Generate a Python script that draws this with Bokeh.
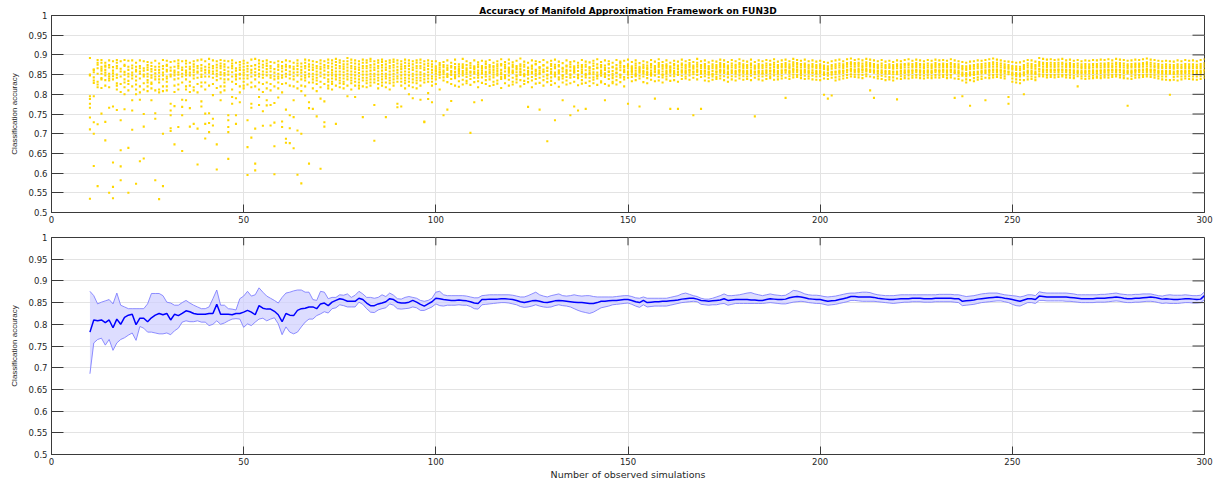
from bokeh.plotting import figure
from bokeh.layouts import column
from bokeh.models import Range1d, FixedTicker, ColumnDataSource
from bokeh.embed import file_html
from bokeh.resources import INLINE

# ---------------- data (accuracy in thousandths) ----------------
# scatter: one list per number of observed simulations, starting at the block's first x
acc_010_049 = [
    [892, 850, 795, 788, 776, 766, 741, 711, 535, 848],
    [863, 856, 843, 829, 795, 729, 700, 618, 862, 835],
    [887, 875, 866, 852, 818, 825, 724, 567, 880, 832],
    [887, 865, 841, 816, 751, 870, 852, 838, 880, 860],
    [880, 873, 862, 848, 836, 730, 683, 822, 855, 870],
    [886, 868, 852, 835, 818, 766, 550, 846, 874, 840],
    [884, 869, 853, 838, 769, 627, 565, 536, 860, 846],
    [887, 872, 850, 828, 812, 760, 880, 842, 866, 822],
    [884, 865, 845, 826, 806, 734, 658, 617, 582, 858],
    [887, 875, 857, 838, 818, 762, 872, 850, 800, 830],
    [885, 870, 852, 834, 810, 664, 550, 845, 862, 826],
    [886, 873, 855, 785, 759, 710, 840, 866, 820, 848],
    [880, 862, 845, 825, 800, 573, 858, 870, 835, 812],
    [886, 872, 858, 840, 786, 630, 852, 866, 820, 805],
    [884, 866, 850, 828, 750, 718, 637, 845, 860, 812],
    [882, 868, 852, 836, 808, 862, 845, 874, 820, 830],
    [880, 864, 848, 830, 785, 842, 858, 872, 815, 826],
    [885, 870, 853, 838, 752, 738, 582, 845, 862, 810],
    [878, 862, 846, 830, 812, 534, 855, 870, 805, 838],
    [887, 872, 855, 838, 700, 567, 848, 865, 820, 808],
    [885, 872, 858, 840, 820, 862, 845, 875, 810, 832],
    [882, 868, 850, 776, 759, 747, 714, 707, 845, 860],
    [884, 870, 855, 838, 770, 673, 860, 848, 822, 806],
    [886, 872, 856, 840, 717, 825, 850, 866, 812, 878],
    [884, 868, 852, 786, 768, 747, 656, 845, 862, 830],
    [885, 870, 855, 838, 785, 820, 860, 848, 878, 812],
    [880, 864, 848, 832, 765, 718, 855, 870, 822, 806],
    [884, 870, 856, 840, 725, 818, 862, 848, 876, 810],
    [886, 872, 858, 842, 713, 622, 855, 866, 826, 805],
    [888, 874, 860, 844, 782, 769, 850, 866, 820, 830],
    [884, 870, 855, 751, 688, 725, 845, 862, 830, 812],
    [890, 876, 860, 845, 752, 727, 704, 855, 868, 822],
    [886, 872, 858, 842, 738, 721, 798, 852, 866, 826],
    [884, 868, 852, 836, 673, 609, 860, 846, 875, 816],
    [887, 872, 856, 785, 840, 866, 850, 820, 878, 805],
    [885, 870, 854, 838, 820, 862, 848, 876, 810, 830],
    [884, 868, 850, 747, 734, 717, 704, 636, 858, 838],
    [886, 872, 856, 793, 776, 845, 866, 832, 878, 812],
    [880, 866, 850, 747, 725, 790, 845, 860, 826, 838],
    [882, 868, 852, 780, 840, 862, 820, 875, 805, 850],
]
acc_050_099 = [
    [885, 870, 855, 840, 822, 862, 848, 878, 815, 832],
    [880, 865, 848, 734, 666, 595, 858, 840, 872, 825],
    [888, 872, 855, 776, 766, 690, 862, 845, 830, 818],
    [890, 874, 856, 713, 624, 607, 865, 848, 838, 820],
    [886, 870, 852, 793, 773, 862, 845, 830, 878, 812],
    [884, 868, 850, 757, 720, 858, 842, 875, 826, 806],
    [886, 872, 856, 785, 772, 864, 848, 878, 830, 815],
    [882, 866, 848, 773, 721, 858, 842, 872, 826, 810],
    [880, 864, 846, 778, 728, 668, 597, 855, 838, 820],
    [884, 870, 852, 792, 862, 845, 875, 830, 815, 840],
    [882, 866, 848, 731, 717, 858, 842, 872, 826, 805],
    [886, 870, 852, 761, 687, 677, 862, 845, 875, 828],
    [884, 868, 850, 747, 714, 676, 858, 840, 872, 822],
    [880, 864, 846, 742, 663, 785, 855, 838, 870, 820],
    [886, 872, 856, 708, 596, 864, 848, 878, 832, 815],
    [878, 862, 846, 700, 574, 855, 838, 870, 822, 808],
    [888, 872, 856, 797, 866, 848, 880, 835, 820, 842],
    [886, 870, 852, 780, 765, 624, 862, 845, 876, 830],
    [884, 868, 852, 763, 862, 845, 875, 830, 815, 838],
    [882, 866, 850, 744, 858, 842, 872, 826, 808, 835],
    [886, 870, 855, 789, 611, 864, 846, 878, 832, 818],
    [884, 868, 850, 782, 729, 718, 860, 842, 874, 826],
    [888, 872, 856, 838, 822, 866, 848, 880, 832, 815],
    [886, 870, 855, 840, 826, 862, 848, 878, 832, 812],
    [890, 874, 858, 725, 866, 850, 882, 838, 822, 845],
    [886, 872, 858, 842, 828, 866, 850, 880, 835, 818],
    [884, 870, 856, 840, 826, 864, 848, 876, 832, 815],
    [892, 876, 860, 845, 795, 868, 852, 884, 838, 822],
    [888, 872, 858, 842, 828, 866, 850, 880, 835, 812],
    [886, 870, 856, 793, 840, 864, 848, 878, 832, 822],
    [884, 868, 854, 838, 822, 862, 846, 876, 830, 815],
    [888, 872, 858, 742, 842, 866, 850, 880, 835, 820],
    [886, 872, 858, 842, 828, 866, 850, 880, 835, 818],
    [890, 874, 860, 845, 830, 868, 852, 884, 838, 822],
    [884, 868, 852, 773, 682, 862, 846, 876, 830, 838],
    [886, 872, 858, 842, 826, 866, 850, 880, 835, 815],
    [888, 874, 860, 845, 830, 868, 852, 882, 838, 822],
    [884, 868, 852, 742, 840, 862, 846, 876, 830, 818],
    [886, 872, 858, 842, 828, 866, 850, 880, 835, 812],
    [888, 874, 860, 845, 830, 868, 852, 882, 838, 822],
    [886, 870, 855, 776, 767, 862, 846, 878, 832, 840],
    [884, 870, 856, 769, 840, 864, 848, 876, 832, 822],
    [888, 872, 858, 842, 828, 866, 850, 880, 835, 815],
    [886, 872, 856, 800, 840, 864, 848, 878, 832, 822],
    [884, 868, 852, 790, 838, 862, 846, 876, 830, 818],
    [886, 872, 858, 842, 828, 866, 850, 880, 835, 815],
    [888, 872, 856, 786, 842, 866, 850, 880, 835, 822],
    [884, 868, 852, 731, 729, 862, 846, 876, 830, 838],
    [886, 872, 856, 803, 788, 864, 848, 878, 832, 840],
    [884, 870, 855, 780, 840, 862, 846, 876, 832, 822],
]
acc_100_149 = [
    [884, 871, 866, 858, 852, 845, 838, 826, 861],
    [879, 874, 863, 855, 849, 842, 812, 868, 857],
    [882, 869, 860, 851, 843, 747, 835, 874, 856],
    [886, 873, 862, 852, 844, 761, 831, 867, 848],
    [880, 868, 859, 849, 839, 783, 826, 872, 855],
    [888, 877, 865, 857, 850, 841, 822, 869, 846],
    [876, 870, 861, 853, 846, 833, 819, 864, 858],
    [890, 876, 867, 859, 848, 837, 825, 871, 854],
    [884, 874, 862, 856, 844, 834, 828, 866, 851],
    [879, 867, 858, 847, 702, 839, 824, 873, 855],
    [886, 871, 864, 852, 780, 842, 831, 868, 857],
    [881, 869, 860, 848, 842, 833, 818, 875, 854],
    [885, 872, 861, 852, 785, 843, 829, 867, 856],
    [883, 877, 866, 857, 845, 836, 826, 870, 851],
    [887, 874, 863, 854, 845, 838, 821, 869, 858],
    [880, 868, 862, 850, 843, 832, 824, 872, 856],
    [884, 871, 865, 853, 848, 835, 827, 876, 859],
    [889, 873, 862, 855, 844, 839, 816, 877, 851],
    [882, 875, 866, 858, 849, 841, 828, 870, 846],
    [888, 878, 864, 855, 847, 837, 822, 868, 859],
    [881, 869, 860, 854, 842, 832, 825, 874, 857],
    [885, 872, 863, 856, 845, 838, 830, 867, 848],
    [891, 876, 864, 855, 849, 836, 820, 871, 858],
    [883, 870, 861, 852, 846, 834, 826, 875, 849],
    [880, 868, 859, 850, 768, 840, 831, 866, 855],
    [886, 873, 865, 853, 844, 835, 818, 870, 857],
    [884, 877, 862, 858, 847, 839, 827, 876, 852],
    [882, 869, 860, 851, 761, 842, 829, 867, 854],
    [887, 874, 863, 856, 845, 836, 822, 873, 858],
    [881, 868, 859, 850, 681, 840, 831, 866, 848],
    [885, 872, 864, 857, 843, 834, 824, 877, 852],
    [888, 875, 866, 855, 734, 845, 828, 869, 850],
    [883, 871, 861, 853, 843, 838, 819, 874, 857],
    [879, 867, 858, 849, 785, 840, 830, 865, 846],
    [886, 873, 862, 853, 844, 835, 825, 871, 858],
    [882, 869, 860, 851, 747, 842, 828, 876, 848],
    [884, 871, 862, 857, 769, 844, 832, 867, 855],
    [880, 868, 859, 850, 759, 841, 823, 873, 847],
    [887, 874, 863, 854, 845, 836, 827, 869, 858],
    [883, 870, 861, 852, 763, 843, 829, 875, 849],
    [881, 869, 860, 851, 842, 833, 821, 866, 854],
    [885, 872, 864, 856, 843, 837, 828, 878, 851],
    [889, 876, 866, 855, 846, 840, 824, 868, 848],
    [882, 869, 860, 853, 847, 833, 830, 874, 856],
    [886, 873, 862, 853, 785, 844, 826, 867, 850],
    [884, 877, 866, 857, 848, 839, 822, 876, 858],
    [880, 868, 859, 852, 841, 832, 828, 870, 847],
    [887, 874, 863, 854, 845, 836, 825, 866, 855],
    [883, 879, 868, 861, 850, 843, 831, 873, 849],
    [885, 872, 862, 856, 844, 838, 820, 869, 857],
]
acc_150_199 = [
    [888, 876, 866, 858, 850, 842, 776, 872, 855],
    [882, 871, 864, 857, 851, 844, 833, 868, 859],
    [886, 878, 867, 860, 853, 846, 836, 873, 849],
    [879, 870, 862, 855, 847, 840, 769, 866, 858],
    [884, 875, 866, 859, 852, 845, 831, 870, 856],
    [881, 873, 864, 857, 849, 841, 828, 868, 854],
    [887, 877, 868, 860, 854, 847, 837, 873, 851],
    [883, 872, 863, 856, 848, 789, 833, 867, 858],
    [889, 879, 869, 861, 853, 844, 835, 874, 857],
    [882, 874, 865, 858, 851, 843, 830, 870, 849],
    [886, 876, 867, 860, 852, 845, 838, 872, 856],
    [880, 871, 863, 855, 847, 763, 834, 868, 859],
    [885, 877, 866, 859, 852, 846, 836, 873, 854],
    [883, 873, 864, 857, 849, 763, 832, 870, 851],
    [888, 878, 868, 861, 855, 847, 839, 874, 858],
    [884, 875, 866, 860, 853, 845, 840, 871, 857],
    [887, 879, 869, 862, 855, 848, 837, 874, 860],
    [882, 873, 865, 858, 851, 747, 842, 869, 856],
    [890, 880, 870, 863, 856, 849, 838, 875, 859],
    [884, 874, 866, 859, 852, 763, 844, 871, 855],
    [886, 877, 867, 860, 853, 846, 835, 872, 858],
    [881, 872, 864, 857, 850, 842, 833, 868, 855],
    [885, 876, 866, 859, 852, 845, 837, 871, 850],
    [883, 874, 865, 858, 851, 844, 839, 869, 857],
    [888, 879, 869, 862, 855, 847, 840, 874, 859],
    [886, 877, 868, 861, 854, 846, 836, 872, 857],
    [882, 873, 865, 858, 851, 843, 832, 869, 854],
    [887, 878, 868, 861, 854, 846, 838, 873, 858],
    [884, 875, 866, 859, 852, 845, 835, 871, 856],
    [889, 879, 869, 862, 855, 848, 840, 875, 859],
    [885, 876, 867, 860, 853, 846, 837, 872, 857],
    [883, 874, 866, 859, 852, 845, 839, 870, 855],
    [888, 878, 868, 861, 854, 847, 836, 874, 858],
    [882, 873, 865, 858, 851, 744, 842, 869, 856],
    [886, 877, 867, 860, 853, 846, 838, 872, 857],
    [884, 875, 866, 859, 852, 845, 835, 871, 854],
    [887, 878, 868, 861, 854, 847, 839, 873, 858],
    [885, 876, 867, 860, 853, 846, 841, 874, 859],
    [889, 880, 869, 862, 855, 848, 837, 875, 857],
    [883, 874, 866, 859, 852, 845, 838, 870, 856],
    [886, 877, 868, 861, 854, 847, 840, 872, 858],
    [888, 879, 869, 862, 855, 791, 842, 874, 860],
    [884, 876, 867, 860, 853, 846, 839, 871, 857],
    [890, 881, 871, 864, 857, 850, 843, 876, 862],
    [887, 879, 869, 863, 856, 849, 844, 875, 860],
    [885, 877, 868, 861, 854, 848, 841, 873, 859],
    [888, 878, 869, 862, 855, 847, 839, 874, 858],
    [884, 875, 866, 860, 853, 846, 840, 871, 857],
    [886, 877, 868, 861, 854, 847, 838, 872, 856],
    [883, 874, 866, 859, 852, 845, 837, 870, 855],
]
acc_200_249 = [
    [885, 876, 867, 860, 853, 846, 836, 872, 857],
    [882, 873, 864, 856, 849, 840, 799, 869, 852],
    [880, 871, 862, 855, 847, 839, 789, 866, 853],
    [884, 874, 865, 857, 850, 842, 797, 870, 855],
    [886, 876, 866, 858, 851, 843, 835, 871, 856],
    [888, 878, 868, 860, 853, 845, 838, 873, 857],
    [884, 876, 867, 860, 854, 847, 840, 872, 859],
    [889, 879, 870, 862, 856, 849, 842, 875, 861],
    [891, 881, 871, 864, 858, 851, 845, 877, 862],
    [887, 879, 870, 863, 857, 850, 844, 875, 861],
    [889, 880, 871, 864, 857, 850, 843, 876, 860],
    [886, 878, 869, 862, 856, 849, 841, 873, 863],
    [890, 881, 871, 864, 858, 851, 846, 876, 861],
    [888, 879, 870, 863, 857, 810, 845, 874, 860],
    [886, 877, 868, 861, 855, 791, 843, 872, 859],
    [884, 875, 867, 860, 853, 846, 840, 871, 858],
    [887, 878, 868, 861, 854, 847, 839, 873, 857],
    [883, 874, 866, 859, 852, 845, 836, 870, 856],
    [885, 876, 867, 859, 852, 844, 838, 871, 855],
    [882, 874, 865, 858, 851, 843, 835, 869, 856],
    [886, 876, 866, 858, 851, 787, 840, 872, 855],
    [884, 876, 867, 860, 853, 846, 839, 871, 858],
    [887, 877, 868, 861, 854, 847, 841, 873, 857],
    [889, 878, 868, 861, 855, 848, 840, 874, 858],
    [885, 877, 868, 861, 854, 847, 842, 872, 859],
    [888, 879, 869, 862, 856, 849, 843, 874, 860],
    [886, 877, 868, 861, 855, 848, 841, 873, 859],
    [884, 876, 867, 860, 854, 847, 840, 871, 857],
    [887, 878, 868, 861, 855, 848, 842, 873, 858],
    [885, 876, 867, 860, 854, 847, 841, 872, 857],
    [888, 879, 869, 862, 856, 849, 843, 874, 860],
    [886, 877, 868, 861, 855, 848, 842, 873, 859],
    [887, 878, 869, 862, 856, 849, 844, 874, 860],
    [885, 877, 868, 861, 855, 848, 841, 872, 858],
    [889, 879, 869, 862, 856, 849, 843, 875, 860],
    [886, 877, 868, 861, 854, 791, 840, 872, 857],
    [884, 876, 867, 860, 853, 846, 839, 871, 856],
    [882, 872, 863, 855, 847, 795, 835, 867, 851],
    [880, 871, 862, 854, 846, 838, 830, 866, 850],
    [883, 873, 864, 856, 848, 771, 836, 869, 852],
    [884, 874, 865, 857, 849, 841, 833, 870, 853],
    [886, 876, 866, 858, 851, 843, 837, 871, 855],
    [885, 877, 867, 860, 853, 845, 839, 872, 857],
    [887, 878, 868, 861, 854, 785, 842, 873, 858],
    [889, 879, 869, 862, 855, 848, 841, 874, 859],
    [891, 881, 870, 863, 856, 849, 843, 876, 861],
    [888, 880, 870, 863, 857, 850, 844, 875, 862],
    [886, 878, 868, 861, 855, 848, 842, 873, 860],
    [884, 876, 867, 860, 853, 846, 840, 871, 858],
    [883, 874, 865, 858, 851, 793, 776, 869, 856],
]
acc_250_300 = [
    [882, 872, 863, 855, 848, 840, 832, 867, 852],
    [880, 871, 862, 854, 846, 838, 830, 866, 850],
    [881, 870, 861, 853, 845, 837, 828, 865, 849],
    [884, 874, 864, 856, 848, 800, 836, 869, 853],
    [887, 878, 868, 860, 853, 845, 838, 873, 857],
    [886, 877, 867, 860, 852, 845, 839, 872, 856],
    [883, 874, 865, 858, 851, 843, 836, 870, 854],
    [892, 882, 872, 865, 858, 851, 846, 877, 863],
    [890, 880, 870, 863, 857, 850, 845, 876, 862],
    [888, 879, 869, 862, 856, 849, 843, 874, 861],
    [889, 880, 870, 863, 856, 849, 844, 875, 860],
    [887, 879, 869, 862, 856, 849, 843, 874, 861],
    [888, 880, 870, 863, 857, 850, 844, 875, 862],
    [890, 880, 870, 863, 856, 849, 845, 876, 861],
    [886, 878, 869, 862, 856, 849, 843, 874, 860],
    [888, 879, 869, 862, 855, 848, 842, 874, 860],
    [885, 877, 868, 861, 854, 847, 841, 872, 858],
    [887, 878, 868, 860, 853, 846, 820, 873, 857],
    [884, 876, 867, 860, 853, 846, 840, 871, 856],
    [886, 877, 867, 860, 853, 846, 839, 872, 857],
    [885, 876, 867, 860, 853, 846, 840, 871, 858],
    [887, 877, 868, 861, 854, 847, 841, 873, 857],
    [886, 877, 868, 860, 853, 846, 842, 872, 858],
    [888, 878, 868, 861, 854, 847, 841, 873, 859],
    [887, 878, 869, 862, 855, 848, 843, 874, 858],
    [889, 879, 869, 862, 855, 848, 842, 874, 860],
    [886, 878, 869, 862, 856, 849, 844, 873, 861],
    [890, 880, 870, 863, 857, 850, 845, 876, 862],
    [888, 879, 869, 862, 856, 849, 843, 874, 861],
    [887, 878, 868, 861, 854, 847, 841, 873, 858],
    [885, 876, 867, 860, 853, 771, 840, 872, 857],
    [886, 877, 868, 860, 853, 846, 839, 872, 857],
    [888, 878, 869, 862, 855, 848, 842, 874, 859],
    [887, 878, 869, 862, 856, 849, 843, 874, 860],
    [889, 879, 870, 863, 856, 849, 844, 875, 861],
    [891, 881, 871, 864, 857, 850, 845, 877, 862],
    [888, 880, 870, 863, 857, 850, 844, 875, 861],
    [887, 878, 869, 862, 855, 848, 842, 873, 860],
    [885, 877, 867, 860, 853, 846, 840, 872, 857],
    [884, 875, 866, 859, 852, 845, 838, 870, 856],
    [885, 876, 866, 859, 852, 845, 837, 871, 856],
    [884, 875, 866, 859, 852, 799, 836, 870, 855],
    [883, 874, 865, 858, 851, 844, 837, 869, 854],
    [886, 876, 866, 859, 852, 845, 835, 871, 856],
    [884, 875, 866, 859, 852, 845, 838, 870, 856],
    [887, 877, 867, 860, 853, 846, 840, 872, 857],
    [885, 876, 867, 860, 853, 846, 839, 871, 858],
    [886, 876, 866, 859, 852, 845, 838, 871, 856],
    [884, 875, 866, 859, 852, 845, 837, 870, 855],
    [887, 877, 867, 860, 853, 846, 839, 872, 857],
    [889, 879, 869, 862, 855, 848, 842, 874, 860],
]

# bottom panel: mean accuracy and band edges for x = 10 .. 300
line_x_start = 10
mean_acc = [
    782, 810, 808, 810, 804, 810, 792, 812, 800, 816,
    821, 823, 799, 814, 814, 806, 815, 821, 825, 822,
    825, 810, 823, 820, 825, 831, 829, 825, 823, 823,
    823, 825, 825, 846, 823, 823, 823, 822, 825, 825,
    828, 832, 828, 822, 843, 837, 835, 835, 830, 822,
    806, 825, 821, 820, 832, 836, 837, 840, 840, 836,
    847, 849, 843, 851, 855, 859, 857, 853, 853, 853,
    860, 857, 849, 843, 843, 847, 849, 852, 859, 857,
    851, 849, 849, 851, 855, 851, 846, 842, 847, 852,
    860, 859, 857,
    856, 855, 855, 856, 855, 854, 852, 849, 848, 857,
    857, 858, 858, 858, 859, 859, 858, 857, 855, 852,
    850, 852, 854, 855, 853, 851, 850, 852, 854, 855,
    854, 853, 852, 851, 850, 850, 849, 848, 848, 850,
    853, 853, 854, 855, 855, 856, 857, 857, 855, 852,
    850, 855, 850, 851, 852, 852, 853, 853, 854, 855,
    856, 858, 859, 860, 860, 858, 855, 854, 853, 854,
    855, 856, 859, 855, 856, 857, 857, 857, 857, 856,
    856, 855, 855, 857, 859, 858, 857, 857, 858, 861,
    863, 864, 863, 861, 859, 858, 857, 857, 855, 853,
    854, 855, 857, 859, 861, 864, 864, 863, 863, 863,
    863, 862, 860, 859, 858, 857, 857, 858, 859, 859,
    859, 860, 860, 860, 859, 859, 859, 860, 860, 860,
    860, 860, 859, 859, 853, 854, 855, 856, 858, 859,
    860, 861, 862, 863, 862, 860, 859, 857, 855, 853,
    856, 859, 859, 857, 865, 864, 863, 863, 863, 863,
    863, 863, 862, 861, 860, 859, 859, 859, 859, 860,
    860, 860, 861, 862, 863, 862, 860, 859, 859, 860,
    860, 861, 862, 863, 862, 860, 858, 859, 858, 857,
    857, 858, 859, 859, 858, 857, 858, 866,
]
upper_acc = [
    876, 866, 847, 851, 854, 857, 847, 872, 844, 840,
    836, 836, 836, 836, 836, 847, 871, 871, 871, 866,
    851, 849, 844, 844, 850, 855, 849, 844, 840, 836,
    836, 840, 859, 879, 844, 844, 836, 835, 833, 859,
    865, 876, 865, 868, 884, 874, 865, 860, 855, 849,
    862, 872, 874, 877, 879, 879, 874, 874, 857, 855,
    876, 874, 859, 862, 862, 868, 867, 870, 862, 867,
    876, 870, 862, 862, 860, 862, 868, 864, 872, 867,
    859, 858, 862, 864, 862, 860, 855, 853, 855, 860,
    874, 876, 868,
    866, 866, 866, 866, 866, 865, 863, 861, 861, 866,
    867, 868, 868, 868, 868, 868, 868, 867, 865, 863,
    863, 866, 870, 874, 868, 865, 863, 866, 868, 870,
    866, 865, 866, 868, 866, 865, 866, 866, 864, 863,
    863, 863, 863, 863, 864, 865, 866, 866, 864, 861,
    860, 863, 860, 860, 860, 860, 860, 860, 862, 864,
    866, 870, 872, 869, 866, 864, 860, 858, 858, 860,
    863, 866, 870, 866, 866, 867, 868, 870, 872, 873,
    870, 868, 866, 868, 870, 868, 867, 866, 867, 872,
    878, 877, 874, 870, 868, 867, 867, 866, 864, 863,
    864, 865, 867, 869, 871, 872, 872, 873, 874, 874,
    873, 870, 868, 867, 866, 866, 866, 867, 868, 868,
    868, 868, 868, 868, 868, 868, 868, 868, 869, 869,
    869, 869, 868, 868, 866, 864, 865, 866, 868, 870,
    871, 872, 872, 872, 870, 868, 867, 866, 865, 863,
    865, 868, 868, 866, 875, 873, 872, 872, 872, 872,
    872, 872, 871, 870, 868, 868, 868, 868, 868, 868,
    869, 869, 870, 871, 872, 870, 869, 868, 868, 869,
    869, 870, 870, 870, 868, 866, 865, 867, 868, 867,
    867, 867, 868, 867, 866, 866, 867, 875,
]
lower_acc = [
    686, 757, 765, 768, 752, 765, 740, 757, 765, 769,
    775, 780, 763, 795, 791, 782, 782, 780, 778, 778,
    780, 776, 785, 791, 805, 808, 806, 806, 808, 805,
    805, 797, 800, 808, 800, 803, 808, 812, 813, 812,
    793, 801, 797, 805, 812, 814, 808, 812, 815, 801,
    776, 794, 782, 778, 782, 794, 805, 812, 812, 820,
    824, 829, 826, 836, 838, 845, 843, 840, 840, 840,
    851, 846, 836, 828, 827, 833, 836, 838, 847, 844,
    836, 835, 836, 837, 840, 838, 832, 832, 836, 840,
    847, 843, 842,
    844, 844, 844, 845, 844, 844, 841, 836, 835, 845,
    846, 847, 848, 849, 850, 850, 849, 847, 845, 841,
    839, 840, 842, 845, 842, 840, 839, 840, 843, 845,
    843, 842, 840, 836, 832, 829, 827, 825, 828, 833,
    838, 840, 842, 845, 846, 847, 848, 849, 846, 842,
    839, 845, 840, 841, 842, 842, 842, 842, 844, 846,
    848, 850, 851, 852, 853, 852, 846, 845, 844, 845,
    845, 847, 848, 844, 846, 848, 848, 848, 848, 848,
    848, 848, 848, 849, 850, 849, 848, 847, 847, 849,
    851, 852, 853, 852, 850, 849, 848, 848, 846, 844,
    845, 846, 848, 850, 852, 855, 855, 854, 853, 853,
    853, 853, 852, 851, 850, 849, 848, 849, 850, 851,
    851, 852, 852, 852, 851, 851, 851, 852, 852, 852,
    852, 852, 851, 850, 843, 844, 845, 846, 848, 850,
    851, 852, 853, 854, 854, 852, 850, 846, 843, 842,
    846, 850, 850, 848, 855, 855, 854, 854, 854, 854,
    854, 853, 853, 852, 851, 850, 850, 850, 850, 851,
    851, 851, 852, 853, 854, 853, 851, 850, 850, 851,
    851, 852, 853, 853, 852, 850, 848, 849, 848, 848,
    848, 849, 850, 850, 849, 849, 850, 857,
]

x_tick_values = [0, 50, 100, 150, 200, 250, 300]
y_tick_values = [0.5, 0.55, 0.6, 0.65, 0.7, 0.75, 0.8, 0.85, 0.9, 0.95, 1.0]
y_tick_labels = ["0.5", "0.55", "0.6", "0.65", "0.7", "0.75", "0.8", "0.85", "0.9", "0.95", "1"]

title_text = "Accuracy of Manifold Approximation Framework on FUN3D"
x_label = "Number of observed simulations"
y_label = "Classification accuracy"

# ---------------- build sources ----------------
blocks = [(10, acc_010_049), (50, acc_050_099), (100, acc_100_149),
          (150, acc_150_199), (200, acc_200_249), (250, acc_250_300)]
sx, sy = [], []
for start, block in blocks:
    for i, col in enumerate(block):
        for v in col:
            sx.append(start + i)
            sy.append(v / 1000.0)
scatter_src = ColumnDataSource(dict(x=sx, y=sy))

n = min(len(mean_acc), len(upper_acc), len(lower_acc))
lx = [line_x_start + i for i in range(n)]
line_src = ColumnDataSource(dict(
    x=lx,
    mean=[v / 1000.0 for v in mean_acc[:n]],
    upper=[v / 1000.0 for v in upper_acc[:n]],
    lower=[v / 1000.0 for v in lower_acc[:n]],
))

AXIS_COLOR = "#3a3a3a"
LABEL_COLOR = "#262626"
GRID_COLOR = "#e3e3e3"
TICK_FONT = "DejaVu Sans"
X0, X1, Y0, Y1 = 0, 300, 0.5, 1.0
LEFT, RIGHT = 51, 12
FIG_W = 1216


def style_axes(p, frame_h, show_xlabel):
    xt = FixedTicker(ticks=x_tick_values)
    yt = FixedTicker(ticks=y_tick_values)
    overrides = {v: s for v, s in zip(y_tick_values, y_tick_labels)}

    for ax in p.xaxis:
        ax.ticker = xt
        ax.major_tick_in = 8
        ax.major_tick_out = 0
        ax.minor_tick_line_color = None
        ax.axis_line_color = AXIS_COLOR
        ax.major_tick_line_color = AXIS_COLOR
        ax.major_label_text_font = TICK_FONT
        ax.major_label_text_font_size = "8.5px"
        ax.major_label_text_color = LABEL_COLOR
        ax.major_label_standoff = 3
        if show_xlabel:
            ax.axis_label = x_label
            ax.axis_label_text_font = TICK_FONT
            ax.axis_label_text_font_size = "9.5px"
            ax.axis_label_text_font_style = "normal"
            ax.axis_label_text_color = LABEL_COLOR
            ax.axis_label_standoff = 1

    for ax in p.yaxis:
        ax.ticker = yt
        ax.major_label_overrides = overrides
        ax.major_tick_in = 12
        ax.major_tick_out = 0
        ax.minor_tick_line_color = None
        ax.axis_line_color = AXIS_COLOR
        ax.major_tick_line_color = AXIS_COLOR
        ax.major_label_text_font = TICK_FONT
        ax.major_label_text_font_size = "8.5px"
        ax.major_label_text_color = LABEL_COLOR
        ax.major_label_standoff = 4
        ax.axis_label = y_label
        ax.axis_label_text_font = "Liberation Sans"
        ax.axis_label_text_font_size = "8px"
        ax.axis_label_text_font_style = "normal"
        ax.axis_label_text_color = LABEL_COLOR
        ax.axis_label_standoff = 7

    # inward ticks on the top and right edges of the box (tick lengths in px -> data units)
    frame_w = FIG_W - LEFT - RIGHT
    dx = 12 * (X1 - X0) / frame_w
    dy = 8 * (Y1 - Y0) / frame_h
    p.segment(x0=[X1] * len(y_tick_values), y0=y_tick_values,
              x1=[X1 - dx] * len(y_tick_values), y1=y_tick_values,
              line_color=AXIS_COLOR, line_width=1)
    p.segment(x0=x_tick_values, y0=[Y1] * len(x_tick_values),
              x1=x_tick_values, y1=[Y1 - dy] * len(x_tick_values),
              line_color=AXIS_COLOR, line_width=1)

    p.xgrid.ticker = xt
    p.ygrid.ticker = yt
    p.xgrid.grid_line_color = GRID_COLOR
    p.ygrid.grid_line_color = GRID_COLOR
    p.outline_line_color = AXIS_COLOR
    p.outline_line_width = 1
    p.background_fill_color = "white"
    p.border_fill_color = "white"


# ---------------- top panel ----------------
TOP_H, TOP_BT, TOP_BB = 230, 15, 18
p1 = figure(width=FIG_W, height=TOP_H, output_backend="svg", toolbar_location=None,
            x_range=Range1d(X0, X1), y_range=Range1d(Y0, Y1),
            min_border_left=LEFT, min_border_right=RIGHT,
            min_border_top=TOP_BT, min_border_bottom=TOP_BB)
p1.title.text = title_text
p1.title.align = "center"
p1.title.text_font = TICK_FONT
p1.title.text_font_size = "9px"
p1.title.text_font_style = "bold"
p1.title.text_color = "black"
p1.title.standoff = 0
p1.title.offset = 0
p1.scatter("x", "y", source=scatter_src, marker="square", size=2.1,
           fill_color="#FFD700", line_color=None)
style_axes(p1, TOP_H - TOP_BT - TOP_BB, False)

# ---------------- bottom panel ----------------
BOT_H, BOT_BT, BOT_BB = 252, 7, 23
p2 = figure(width=FIG_W, height=BOT_H, output_backend="svg", toolbar_location=None,
            x_range=Range1d(X0, X1), y_range=Range1d(Y0, Y1),
            min_border_left=LEFT, min_border_right=RIGHT,
            min_border_top=BOT_BT, min_border_bottom=BOT_BB)
p2.varea(x="x", y1="lower", y2="upper", source=line_src,
         fill_color="#cfcfff", fill_alpha=0.7)
p2.line("x", "upper", source=line_src, line_color="#7a7aff", line_width=1, line_alpha=0.85)
p2.line("x", "lower", source=line_src, line_color="#7a7aff", line_width=1, line_alpha=0.85)
p2.line("x", "mean", source=line_src, line_color="#0000ff", line_width=1.5)
style_axes(p2, BOT_H - BOT_BT - BOT_BB, True)

layout = column(p1, p2, spacing=0)
open("out.html", "w").write(file_html(layout, INLINE))
